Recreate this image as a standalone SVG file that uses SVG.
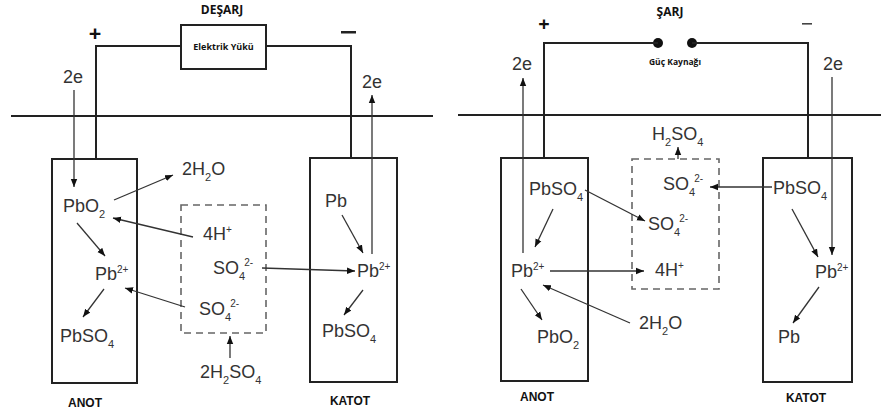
<svg xmlns="http://www.w3.org/2000/svg" width="881" height="414" viewBox="0 0 881 414">
<defs>
<style>
.t{font-family:"Liberation Sans",Arial,sans-serif;font-size:18px;fill:#333}
.s{font-size:11px}
.p{font-size:10px}
.b{font-family:"Open Sans","Liberation Sans",sans-serif;font-weight:700;fill:#111}
.k{font-family:"Liberation Sans",Arial,sans-serif;font-weight:700;font-size:12px;fill:#111}
.box{fill:none;stroke:#222;stroke-width:2}
.dash{fill:none;stroke:#666;stroke-width:1.6;stroke-dasharray:7,5}
.w{fill:none;stroke:#222;stroke-width:2}
.a{fill:none;stroke:#333;stroke-width:1.3;marker-end:url(#ah)}
</style>
<marker id="ah" viewBox="0 0 10 10" refX="10" refY="5" markerWidth="8" markerHeight="8" markerUnits="userSpaceOnUse" orient="auto">
<path d="M0,1 L10,5 L0,9 z" fill="#111"/>
</marker>
</defs>
<rect width="881" height="414" fill="#fff"/>

<!-- LEFT PANEL: DESARJ -->
<g id="desarj-title"><text class="b" x="222" y="14" font-size="12" text-anchor="middle">DEŞARJ</text></g>
<g id="desarj-plus"><text class="b" x="95" y="41" font-size="22" text-anchor="middle">+</text></g>
<g id="desarj-minus"><rect x="341" y="31" width="15" height="2.5" fill="#222"/></g>
<g id="elektrik-yuku"><rect class="box" x="181" y="25" width="85" height="44"/><text class="b" x="223.5" y="50" font-size="9" text-anchor="middle">Elektrik Yükü</text></g>
<g id="anot-left"><rect class="box" x="52" y="159" width="85" height="224"/><text class="k" x="85" y="407" text-anchor="middle">ANOT</text></g>
<g id="katot-left"><rect class="box" x="310" y="158" width="87" height="224"/><text class="k" x="350" y="405" text-anchor="middle">KATOT</text></g>
<g id="electrolyte-left"><rect class="dash" x="181" y="205" width="85" height="128"/></g>
<g id="l-2e-a"><text class="t" x="63" y="83">2e</text></g>
<g id="l-2e-k"><text class="t" x="362" y="88">2e</text></g>
<g id="l-pbo2"><text class="t" x="63" y="212">PbO<tspan class="s" dy="6">2</tspan></text></g>
<g id="l-2h2o"><text class="t" x="182" y="175">2H<tspan class="s" dy="6">2</tspan><tspan dy="-6">O</tspan></text></g>
<g id="l-4h"><text class="t" x="203" y="240">4H<tspan class="p" dy="-7">+</tspan></text></g>
<g id="l-pb2-a"><text class="t" x="95" y="280">Pb<tspan class="p" dy="-7">2+</tspan></text></g>
<g id="l-so4-mid"><text class="t" x="213" y="274">SO<tspan class="s" dy="6">4</tspan><tspan class="p" dx="-1" dy="-14">2-</tspan></text></g>
<g id="l-so4-bot"><text class="t" x="199" y="315">SO<tspan class="s" dy="6">4</tspan><tspan class="p" dx="-1" dy="-14">2-</tspan></text></g>
<g id="l-pbso4-a"><text class="t" x="60" y="342">PbSO<tspan class="s" dy="6">4</tspan></text></g>
<g id="l-pb-k"><text class="t" x="325" y="207">Pb</text></g>
<g id="l-pb2-k"><text class="t" x="357" y="277">Pb<tspan class="p" dy="-7">2+</tspan></text></g>
<g id="l-pbso4-k"><text class="t" x="322" y="337">PbSO<tspan class="s" dy="6">4</tspan></text></g>
<g id="l-2h2so4"><text class="t" x="200" y="378">2H<tspan class="s" dy="6">2</tspan><tspan dy="-6">SO</tspan><tspan class="s" dy="6">4</tspan></text></g>

<!-- RIGHT PANEL: SARJ -->
<g id="sarj-title"><text class="b" x="670" y="16" font-size="12" text-anchor="middle">ŞARJ</text></g>
<g id="sarj-plus"><text class="b" x="544" y="31" font-size="20" text-anchor="middle">+</text></g>
<g id="sarj-minus"><rect x="802" y="23" width="10" height="1.6" fill="#444"/></g>
<g id="guc-kaynagi"><circle cx="658" cy="43" r="5" fill="#111"/><circle cx="692" cy="43" r="5" fill="#111"/><text class="b" x="675" y="65" font-size="8.5" text-anchor="middle">Güç Kaynağı</text></g>
<g id="anot-right"><rect class="box" x="501" y="158" width="87" height="223"/><text class="k" x="537" y="401" text-anchor="middle">ANOT</text></g>
<g id="katot-right"><rect class="box" x="763" y="158" width="89" height="224"/><text class="k" x="806" y="402" text-anchor="middle">KATOT</text></g>
<g id="electrolyte-right"><rect class="dash" x="632" y="159" width="87" height="130"/></g>
<g id="r-2e-a"><text class="t" x="512" y="70">2e</text></g>
<g id="r-2e-k"><text class="t" x="823" y="70">2e</text></g>
<g id="r-h2so4"><text class="t" x="652" y="140">H<tspan class="s" dy="6">2</tspan><tspan dy="-6">SO</tspan><tspan class="s" dy="6">4</tspan></text></g>
<g id="r-pbso4-a"><text class="t" x="529" y="195">PbSO<tspan class="s" dy="6">4</tspan></text></g>
<g id="r-so4-top"><text class="t" x="663" y="190">SO<tspan class="s" dy="6">4</tspan><tspan class="p" dx="-1" dy="-14">2-</tspan></text></g>
<g id="r-pbso4-k"><text class="t" x="773" y="194">PbSO<tspan class="s" dy="6">4</tspan></text></g>
<g id="r-so4-mid"><text class="t" x="648" y="230">SO<tspan class="s" dy="6">4</tspan><tspan class="p" dx="-1" dy="-14">2-</tspan></text></g>
<g id="r-pb2-a"><text class="t" x="511" y="277">Pb<tspan class="p" dy="-7">2+</tspan></text></g>
<g id="r-4h"><text class="t" x="655" y="276">4H<tspan class="p" dy="-7">+</tspan></text></g>
<g id="r-pb2-k"><text class="t" x="815" y="278">Pb<tspan class="p" dy="-7">2+</tspan></text></g>
<g id="r-2h2o"><text class="t" x="639" y="329">2H<tspan class="s" dy="6">2</tspan><tspan dy="-6">O</tspan></text></g>
<g id="r-pbo2"><text class="t" x="537" y="343">PbO<tspan class="s" dy="6">2</tspan></text></g>
<g id="r-pb-k"><text class="t" x="778" y="343">Pb</text></g>

<g id="connectors">
<!-- left -->
<line class="w" x1="11" y1="116" x2="433" y2="116"/>
<path class="w" d="M96,158 V46 H181"/>
<path class="w" d="M266,46 H351 V158"/>
<line class="a" x1="74" y1="90" x2="74" y2="187"/>
<line class="a" x1="372" y1="254" x2="372" y2="95"/>
<line class="a" x1="114" y1="200" x2="173" y2="175"/>
<line class="a" x1="193" y1="237" x2="113" y2="218"/>
<line class="a" x1="77" y1="223" x2="105" y2="256"/>
<line class="a" x1="262" y1="268" x2="355" y2="271"/>
<line class="a" x1="185" y1="307" x2="125" y2="288"/>
<line class="a" x1="104" y1="289" x2="83" y2="317"/>
<line class="a" x1="342" y1="215" x2="363" y2="253"/>
<line class="a" x1="363" y1="290" x2="344" y2="315"/>
<line class="a" x1="230" y1="358" x2="230" y2="336"/>
<!-- right -->
<line class="w" x1="458" y1="115" x2="881" y2="115"/>
<path class="w" d="M544,158 V43 H658"/>
<path class="w" d="M692,43 H808 V158"/>
<line class="a" x1="523" y1="253" x2="523" y2="78"/>
<line class="a" x1="832" y1="77" x2="832" y2="255"/>
<line class="a" x1="678" y1="159" x2="678" y2="147"/>
<line class="a" x1="585" y1="190" x2="645" y2="221"/>
<line class="a" x1="772" y1="187" x2="710" y2="187"/>
<line class="a" x1="553" y1="209" x2="535" y2="247"/>
<line class="a" x1="550" y1="271" x2="644" y2="271"/>
<line class="a" x1="630" y1="323" x2="543" y2="285"/>
<line class="a" x1="521" y1="289" x2="542" y2="320"/>
<line class="a" x1="792" y1="209" x2="818" y2="257"/>
<line class="a" x1="819" y1="287" x2="793" y2="323"/>
</g>
</svg>
